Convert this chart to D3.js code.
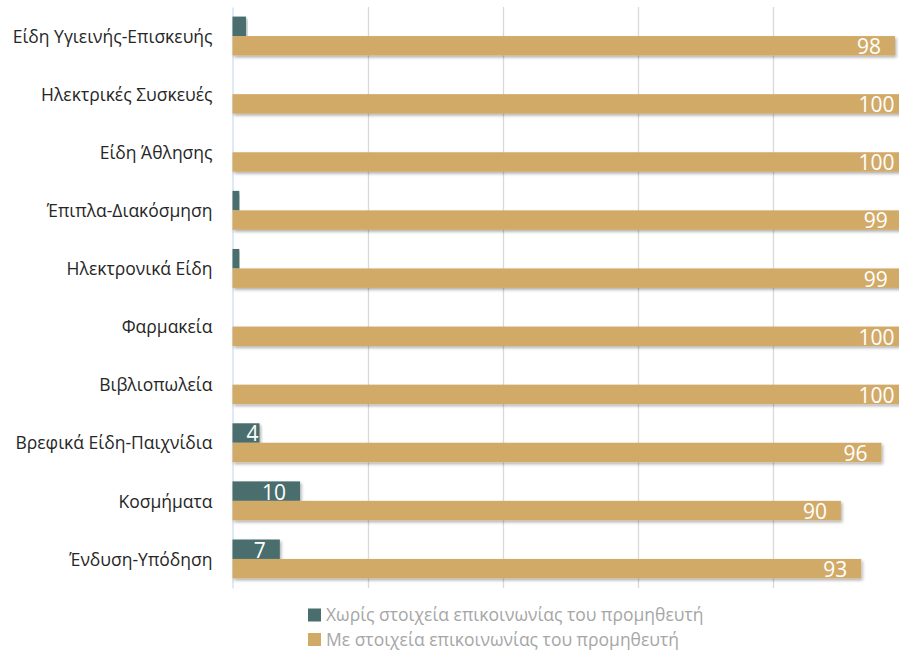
<!DOCTYPE html>
<html>
<head>
<meta charset="utf-8">
<script src="https://cdn.jsdelivr.net/npm/d3@7"></script>
<style>
  html, body { margin: 0; padding: 0; background: #fff; }
  svg { display: block; font-family: "Open Sans", "Noto Sans", sans-serif; }
</style>
</head>
<body>
<svg id="chart" width="899" height="650"></svg>
<script>
'use strict';

// categories, top to bottom
const categories = [
  'Είδη Υγιεινής-Επισκευής',
  'Ηλεκτρικές Συσκευές',
  'Είδη Άθλησης',
  'Έπιπλα-Διακόσμηση',
  'Ηλεκτρονικά Είδη',
  'Φαρμακεία',
  'Βιβλιοπωλεία',
  'Βρεφικά Είδη-Παιχνίδια',
  'Κοσμήματα',
  'Ένδυση-Υπόδηση'
];
const withoutContact = [2, 0, 0, 1, 1, 0, 0, 4, 10, 7];
const withContact = [98, 100, 100, 99, 99, 100, 100, 96, 90, 93];
const seriesNames = [
  'Χωρίς στοιχεία επικοινωνίας του προμηθευτή',
  'Με στοιχεία επικοινωνίας του προμηθευτή'
];
const xTicks = [0, 20, 40, 60, 80, 100];

const colors = ['#4a6e6d', '#d2aa68'];

const svg = d3.select('#chart');
const defs = svg.append('defs');
defs.append('filter')
    .attr('id', 'shadow')
    .attr('x', '-5%').attr('y', '-30%')
    .attr('width', '115%').attr('height', '180%')
  .append('feDropShadow')
    .attr('dx', 1.5).attr('dy', 2)
    .attr('stdDeviation', 1.5)
    .attr('flood-color', '#000')
    .attr('flood-opacity', 0.3);

const x = d3.scaleLinear().domain([0, 100]).range([232.5, 908.5]);
const y = d3.scaleBand().domain(categories).range([7, 588])
    .paddingInner(0.33).paddingOuter(0.165);
const sub = d3.scaleBand().domain([0, 1]).range([0, y.bandwidth()]);

// gridlines
svg.append('g')
    .selectAll('line')
    .data(xTicks.slice(1))
    .join('line')
    .attr('x1', d => Math.round(x(d)) + 0.5)
    .attr('x2', d => Math.round(x(d)) + 0.5)
    .attr('y1', 7).attr('y2', 588)
    .attr('stroke', '#d9d9d9').attr('stroke-width', 1.3);

// category axis
const yAxis = svg.append('g')
    .attr('transform', `translate(${x(0)},0)`)
    .call(d3.axisLeft(y).tickSize(0).tickPadding(20));
yAxis.select('.domain').attr('stroke', '#c8dcf2').attr('stroke-width', 1.2);
yAxis.selectAll('text')
    .attr('font-size', 17.5)
    .attr('dy', '0.38em')
    .attr('fill', '#262626')
    .attr('font-family', '"Open Sans", sans-serif');

const rows = categories.map((c, i) => ({ c, vals: [withoutContact[i], withContact[i]] }));

const group = svg.append('g');
rows.forEach(r => {
  r.vals.forEach((v, s) => {
    if (v <= 0) return;
    const top = y(r.c) + sub(s);
    group.append('rect')
        .attr('x', x(0))
        .attr('y', top)
        .attr('width', x(v) - x(0))
        .attr('height', sub.bandwidth())
        .attr('fill', colors[s])
        .attr('filter', 'url(#shadow)');
    if (v >= 3) {
      const t = group.append('text')
          .attr('y', top + sub.bandwidth() / 2)
          .attr('dy', '0.4em')
          .attr('text-anchor', 'end')
          .attr('font-size', 21)
          .attr('fill', '#fff')
          .text(v);
      const w = t.node().getComputedTextLength();
      t.attr('x', Math.max(x(v) - 14, x(0) + 14 + w));
    }
  });
});

// legend
const legend = svg.append('g');
seriesNames.forEach((name, i) => {
  const cy = 615 + i * 24.5;
  legend.append('rect')
      .attr('x', 308).attr('y', cy - 6.5)
      .attr('width', 13).attr('height', 13)
      .attr('fill', colors[i]);
  legend.append('text')
      .attr('x', 326).attr('y', cy)
      .attr('dy', '0.35em')
      .attr('font-size', 17.5)
      .attr('fill', '#a6a6a6')
      .text(name);
});
</script>
</body>
</html>
